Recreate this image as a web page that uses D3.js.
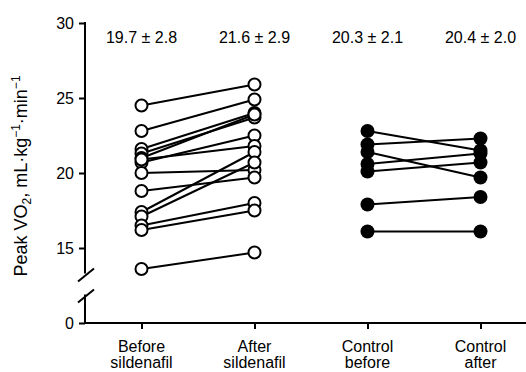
<!DOCTYPE html>
<html>
<head>
<meta charset="utf-8">
<script src="https://cdn.jsdelivr.net/npm/d3@7"></script>
<style>
  html, body { margin: 0; padding: 0; background: #fff; }
  svg { display: block; font-family: "Liberation Sans", Arial, sans-serif; }
</style>
</head>
<body>
<svg id="chart" width="526" height="372"></svg>
<script>
// ---- data ----
const categories = ["Before sildenafil", "After sildenafil", "Control before", "Control after"];
const meanLabels = ["19.7 \u00b1 2.8", "21.6 \u00b1 2.9", "20.3 \u00b1 2.1", "20.4 \u00b1 2.0"];
const sildenafilBefore = [24.5, 22.8, 21.6, 21.3, 21.0, 20.7, 20.9, 20.0, 18.8, 17.4, 17.1, 16.5, 16.2, 13.6];
const sildenafilAfter  = [25.9, 24.9, 24.0, 23.7, 23.9, 22.5, 21.8, 20.2, 19.7, 21.4, 20.7, 18.0, 17.5, 14.7];
const controlBefore = [22.8, 21.9, 21.4, 20.6, 20.1, 17.9, 16.1];
const controlAfter  = [21.5, 22.3, 19.7, 21.3, 20.7, 18.4, 16.1];
const yTicks = [15, 20, 25, 30];

// ---- layout ----
const W = 526, H = 372;
const axisX = 85, baseY = 323;
const svg = d3.select("#chart");
const FONT = "'Liberation Sans', Arial, sans-serif";

const x = d3.scalePoint().domain(categories).range([axisX, 537]).padding(0.5);
const y = d3.scaleLinear().domain([13, 30]).range([278, 23]);   // upper (broken) segment
const yLow = d3.scaleLinear().domain([0, 2]).range([baseY, 293]); // lower segment

// upper y-axis
const gY = svg.append("g").attr("transform", `translate(${axisX},0)`)
  .call(d3.axisLeft(y).tickValues(yTicks).tickFormat(d3.format("d")).tickSize(6).tickSizeOuter(0).tickPadding(5));
gY.select(".domain").remove();
gY.append("line").attr("x1", 0).attr("x2", 0).attr("y1", y(30) - 1).attr("y2", y(13.3))
  .attr("stroke", "#000").attr("stroke-width", 2);
gY.selectAll(".tick line").attr("stroke", "#000").attr("stroke-width", 2);
gY.selectAll(".tick text").attr("font-size", 16).attr("fill", "#000").attr("font-family", FONT);

// lower y-axis
const gY0 = svg.append("g").attr("transform", `translate(${axisX},0)`)
  .call(d3.axisLeft(yLow).tickValues([0]).tickFormat(d3.format("d")).tickSize(6).tickSizeOuter(0).tickPadding(5));
gY0.select(".domain").remove();
gY0.append("line").attr("x1", 0).attr("x2", 0).attr("y1", yLow(1.9)).attr("y2", baseY)
  .attr("stroke", "#000").attr("stroke-width", 2);
gY0.selectAll(".tick line").attr("stroke", "#000").attr("stroke-width", 2);
gY0.selectAll(".tick text").attr("font-size", 16).attr("fill", "#000").attr("font-family", FONT);

// break marks
[y(13.3) + 8, yLow(1.9) + 8].forEach(cy => {
  svg.append("line").attr("x1", axisX - 7).attr("y1", cy).attr("x2", axisX + 9).attr("y2", cy - 13)
    .attr("stroke", "#000").attr("stroke-width", 2);
});

// x-axis
const gX = svg.append("g").attr("transform", `translate(0,${baseY})`)
  .call(d3.axisBottom(x).tickSize(6).tickSizeOuter(0).tickFormat(""));
gX.select(".domain").remove();
gX.append("line").attr("x1", axisX - 1).attr("x2", W).attr("y1", 0).attr("y2", 0)
  .attr("stroke", "#000").attr("stroke-width", 2);
gX.selectAll(".tick line").attr("stroke", "#000").attr("stroke-width", 2);

const catLines = [["Before", "sildenafil"], ["After", "sildenafil"], ["Control", "before"], ["Control", "after"]];
categories.forEach((c, i) => {
  const t = svg.append("text").attr("text-anchor", "middle").attr("font-size", 16).attr("fill", "#000");
  t.append("tspan").attr("x", x(c)).attr("y", 352).text(catLines[i][0]);
  t.append("tspan").attr("x", x(c)).attr("y", 368).text(catLines[i][1]);
});

// mean labels
categories.forEach((c, i) => {
  svg.append("text").attr("x", x(c)).attr("y", 43).attr("text-anchor", "middle")
    .attr("font-size", 16).attr("fill", "#000").text(meanLabels[i]);
});

// y-axis title
const title = svg.append("text")
  .attr("transform", `translate(27,${176}) rotate(-90)`)
  .attr("text-anchor", "middle").attr("font-size", 18).attr("fill", "#000");
title.append("tspan").text("Peak VO");
title.append("tspan").attr("font-size", 12).attr("dy", 4).text("2");
title.append("tspan").attr("dy", -4).text(", mL\u00b7kg");
title.append("tspan").attr("font-size", 12).attr("dy", -7).text("\u22121");
title.append("tspan").attr("dy", 7).text("\u00b7min");
title.append("tspan").attr("font-size", 12).attr("dy", -7).text("\u22121");

// paired lines + points
function drawPairs(before, after, c0, c1, filled) {
  const pairs = before.map((b, i) => [b, after[i]]);
  svg.append("g").selectAll("line").data(pairs).join("line")
    .attr("x1", x(c0)).attr("x2", x(c1))
    .attr("y1", d => y(d[0])).attr("y2", d => y(d[1]))
    .attr("stroke", "#000").attr("stroke-width", 2);
  const pts = [];
  pairs.forEach(d => { pts.push([c0, d[0]]); pts.push([c1, d[1]]); });
  svg.append("g").selectAll("circle").data(pts).join("circle")
    .attr("cx", d => x(d[0])).attr("cy", d => y(d[1]))
    .attr("r", filled ? 7 : 6)
    .attr("fill", filled ? "#000" : "#fff")
    .attr("stroke", "#000").attr("stroke-width", filled ? 0 : 2);
}
drawPairs(sildenafilBefore, sildenafilAfter, categories[0], categories[1], false);
drawPairs(controlBefore, controlAfter, categories[2], categories[3], true);
</script>
</body>
</html>
